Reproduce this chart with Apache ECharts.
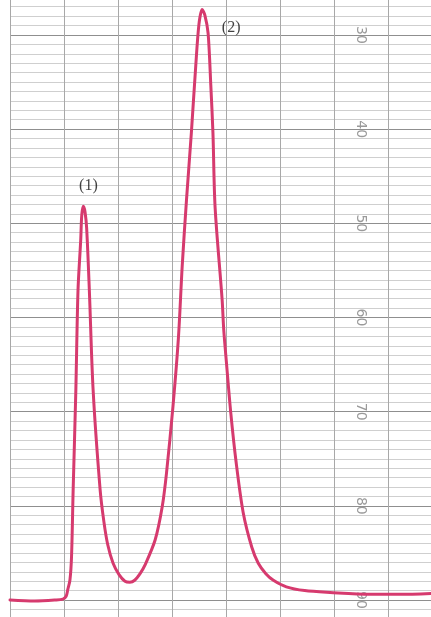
<!DOCTYPE html>
<html><head><meta charset="utf-8">
<script src="https://cdn.jsdelivr.net/npm/echarts@6/dist/echarts.min.js"></script>
<style>html,body{margin:0;padding:0;background:#fff}#c{width:431px;height:617px}</style>
</head><body><div id="c"></div>
<script>
// chart-paper time units (one vertical rule per unit)
var timeX = [0, 0.46, 0.83, 0.98, 1.04, 1.07, 1.11, 1.14, 1.17, 1.22, 1.26, 1.31, 1.33, 1.36, 1.39, 1.42, 1.47, 1.54, 1.67, 1.74, 1.81, 1.91, 2.02, 2.13, 2.22, 2.31, 2.41, 2.50, 2.69, 2.82, 2.90, 3.02, 3.12, 3.19, 3.27, 3.36, 3.44, 3.50, 3.56, 3.61, 3.67, 3.72, 3.76, 3.80, 3.93, 3.96, 4.01, 4.09, 4.19, 4.32, 4.48, 4.60, 4.74, 4.88, 5.12, 5.46, 5.93, 6.67, 7.22, 7.80];
// recorder scale reading (inverted: 30 at top, 90 at baseline)
var signal = [90.0, 90.1, 90.0, 89.9, 89.6, 88.9, 87.9, 85.4, 78.3, 67.7, 57.1, 51.8, 49.1, 48.2, 48.8, 50.5, 57.1, 67.7, 78.3, 81.7, 84.1, 86.1, 87.3, 88.0, 88.1, 87.9, 87.2, 86.3, 83.6, 80.1, 76.5, 69.4, 62.2, 54.6, 47.5, 40.4, 33.4, 28.9, 27.3, 27.9, 29.8, 35.3, 40.4, 48.3, 58.1, 61.3, 64.8, 70.1, 75.4, 80.7, 84.4, 86.1, 87.2, 87.9, 88.6, 89.0, 89.2, 89.4, 89.4, 89.3];
var scaleTicks = [30, 40, 50, 60, 70, 80, 90];
var peakNames = ['(1)', '(2)'];
var peakX = [1.36, 3.56];
var peakY = [48.2, 27.3];

var lineData = timeX.map(function (x, i) { return [x, signal[i]]; });
var peakData = peakNames.map(function (n, i) { return { value: [peakX[i], peakY[i]], name: n }; });

var chart = echarts.init(document.getElementById('c'), null, { renderer: 'canvas' });
chart.setOption({
  backgroundColor: '#ffffff',
  animation: false,
  grid: { left: 10, right: 0, top: -59.2, height: 753.4, containLabel: false, outerBoundsMode: 'none' },
  xAxis: {
    type: 'value', min: 0, max: 7.8, interval: 1,
    axisLine: { show: false }, axisTick: { show: false }, axisLabel: { show: false },
    splitLine: { show: true, lineStyle: { color: '#a8a8a8', width: 1 } }
  },
  yAxis: {
    type: 'value', inverse: true, min: 20, max: 100, interval: 10,
    position: 'left', offset: -358,
    axisLine: { show: false }, axisTick: { show: false },
    axisLabel: {
      show: true, rotate: -90, margin: 0, color: '#9a9a9a', fontSize: 14,
      fontFamily: 'DejaVu Sans',
      formatter: function (v) { return scaleTicks.indexOf(v) >= 0 ? String(v) : ''; }
    },
    splitLine: { show: true, lineStyle: { color: '#8f8f8f', width: 1.2 } },
    minorTick: { show: false, splitNumber: 10 },
    minorSplitLine: { show: true, lineStyle: { color: '#cfcfcf', width: 1 } }
  },
  series: [
    {
      type: 'line', data: lineData, smooth: 0.3, showSymbol: false,
      lineStyle: { color: '#d63a6e', width: 3, join: 'round', cap: 'round' }, z: 3
    },
    {
      type: 'scatter', data: peakData, symbolSize: 0, z: 4,
      label: {
        show: true, formatter: '{b}', color: '#111', fontSize: 16,
        fontFamily: 'Liberation Serif', position: 'inside'
      },
      labelLayout: function (p) {
        return p.dataIndex === 0 ? { dx: 5, dy: -21 } : { dx: 29, dy: 18 };
      }
    }
  ]
});
</script></body></html>
